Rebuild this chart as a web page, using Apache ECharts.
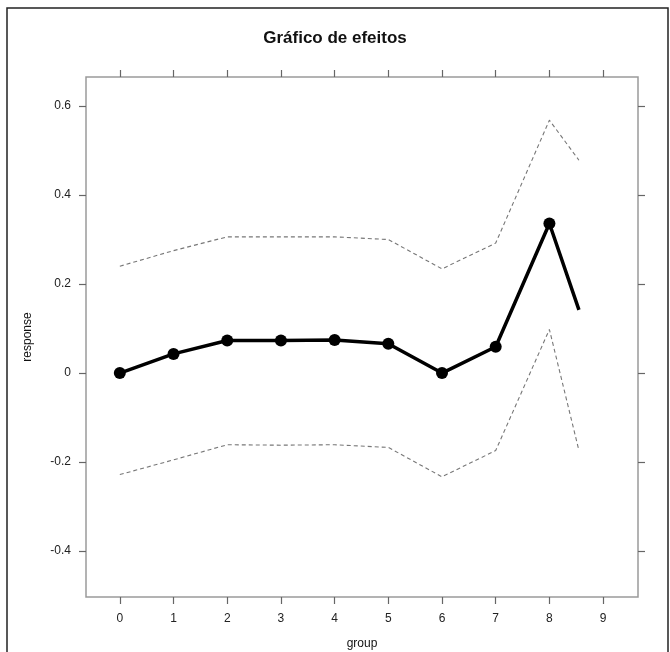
<!DOCTYPE html>
<html>
<head>
<meta charset="utf-8">
<script src="https://cdn.jsdelivr.net/npm/echarts@6/dist/echarts.min.js"></script>
<style>
html,body{margin:0;padding:0;background:#fff;}
#chart{width:670px;height:652px;}
</style>
</head>
<body>
<div id="chart"></div>
<script>
// Data
var groups = [0, 1, 2, 3, 4, 5, 6, 7, 8, 8.55];
var fitValues = [0.0, 0.043, 0.073, 0.073, 0.074, 0.066, 0.0, 0.059, 0.336, 0.142];
var upperValues = [0.240, 0.275, 0.306, 0.306, 0.306, 0.300, 0.234, 0.292, 0.568, 0.478];
var lowerValues = [-0.228, -0.195, -0.161, -0.162, -0.161, -0.167, -0.233, -0.174, 0.098, -0.174];
var markerGroups = [0, 1, 2, 3, 4, 5, 6, 7, 8];
var xTicks = [0, 1, 2, 3, 4, 5, 6, 7, 8, 9];
var yTicks = [-0.4, -0.2, 0, 0.2, 0.4, 0.6];

function pairs(xs, ys) {
  return xs.map(function (x, i) { return [x, ys[i]]; });
}
var fitData = groups.map(function (g, i) {
  var item = { value: [g, fitValues[i]] };
  if (markerGroups.indexOf(g) < 0) { item.symbol = 'none'; }
  return item;
});

var FONT = '"Liberation Sans", Arial, Helvetica, sans-serif';
var boxColor = '#9a9a9a';
var tickStyle = { show: true, inside: false, length: 7, lineStyle: { color: '#666', width: 1.2 } };
var hiddenLine = { show: false, onZero: false };

var chart = echarts.init(document.getElementById('chart'), null, { renderer: 'canvas' });
chart.setOption({
  animation: false,
  backgroundColor: '#ffffff',
  title: {
    text: 'Gráfico de efeitos',
    left: 'center',
    top: 25,
    textStyle: { fontFamily: FONT, fontSize: 17, fontWeight: 'bold', color: '#111' }
  },
  graphic: [{
    type: 'rect',
    shape: { x: 7, y: 8, width: 661, height: 660 },
    style: { fill: 'none', stroke: '#222', lineWidth: 1.5 },
    silent: true
  }],
  grid: {
    left: 86, top: 77, right: 32, bottom: 55,
    outerBoundsMode: 'none', containLabel: false,
    show: true, borderColor: boxColor, borderWidth: 1.5, backgroundColor: 'transparent'
  },
  xAxis: [{
    type: 'value', min: -0.63, max: 9.65, position: 'bottom',
    name: 'group', nameLocation: 'middle', nameGap: 41,
    nameTextStyle: { fontFamily: FONT, fontSize: 12, color: '#111' },
    axisLine: hiddenLine,
    splitLine: { show: false },
    axisTick: Object.assign({ customValues: xTicks }, tickStyle),
    axisLabel: { customValues: xTicks, margin: 16, fontFamily: FONT, fontSize: 12, color: '#222' }
  }, {
    type: 'value', min: -0.63, max: 9.65, position: 'top',
    axisLine: hiddenLine, splitLine: { show: false },
    axisTick: Object.assign({ customValues: xTicks }, tickStyle),
    axisLabel: { show: false }
  }],
  yAxis: [{
    type: 'value', min: -0.503, max: 0.665, position: 'left',
    name: 'response', nameLocation: 'middle', nameGap: 52, nameRotate: 90,
    nameTextStyle: { fontFamily: FONT, fontSize: 12, color: '#111' },
    axisLine: hiddenLine, splitLine: { show: false },
    axisTick: Object.assign({ customValues: yTicks }, tickStyle),
    axisLabel: {
      customValues: yTicks, margin: 15, fontFamily: FONT, fontSize: 12, color: '#222',
      formatter: function (v) { return String(Math.round(v * 10) / 10); }
    }
  }, {
    type: 'value', min: -0.503, max: 0.665, position: 'right',
    axisLine: hiddenLine, splitLine: { show: false },
    axisTick: Object.assign({ customValues: yTicks }, tickStyle),
    axisLabel: { show: false }
  }],
  series: [{
    type: 'line', name: 'upper', data: pairs(groups, upperValues),
    showSymbol: false, symbol: 'none',
    lineStyle: { color: '#777', width: 1.1, type: [4, 3] }, z: 2
  }, {
    type: 'line', name: 'lower', data: pairs(groups, lowerValues),
    showSymbol: false, symbol: 'none',
    lineStyle: { color: '#777', width: 1.1, type: [4, 3] }, z: 2
  }, {
    type: 'line', name: 'fit', data: fitData,
    symbol: 'circle', symbolSize: 12, showSymbol: true,
    itemStyle: { color: '#000' },
    lineStyle: { color: '#000', width: 3.5 }, z: 3
  }]
});
</script>
</body>
</html>
